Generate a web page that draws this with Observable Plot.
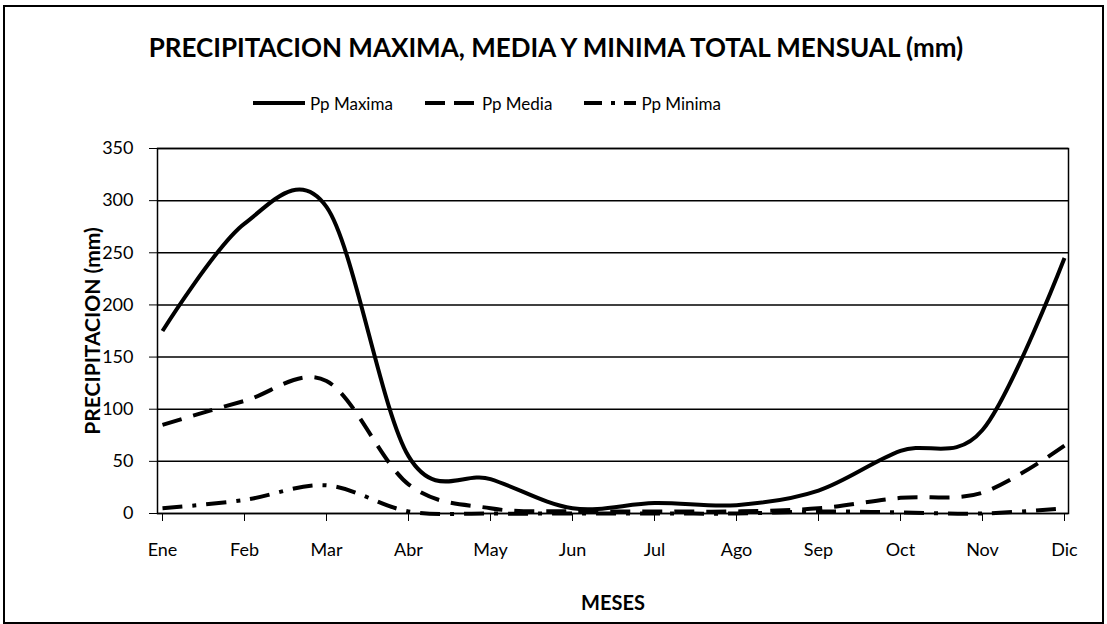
<!DOCTYPE html>
<html>
<head>
<meta charset="utf-8">
<script src="https://cdn.jsdelivr.net/npm/d3@7"></script>
<script src="https://cdn.jsdelivr.net/npm/@observablehq/plot@0.6"></script>
<style>
  html, body { margin: 0; padding: 0; background: #fff; }
  body { width: 1107px; height: 624px; position: relative; overflow: hidden; font-family: Lato, "Open Sans", sans-serif; }
  #frame { position: absolute; left: 3px; top: 5px; width: 1101px; height: 619px; border: 2px solid #000; box-sizing: border-box; }
  #title { position: absolute; left: 0; width: 1112px; top: 31px; text-align: center; font-size: 26px; line-height: 32px; font-weight: bold; color: #000; white-space: nowrap; }
  #legend { position: absolute; left: 253px; top: 92px; height: 22px; display: flex; align-items: center; gap: 32px; font-size: 17px; color: #000; }
  #legend .item { display: flex; align-items: center; gap: 5px; }
  #chart { position: absolute; left: 0; top: 125px; }
</style>
</head>
<body>
<div id="frame"></div>
<div id="title"></div>
<div id="legend"></div>
<div id="chart"></div>
<script>
const months = ["Ene","Feb","Mar","Abr","May","Jun","Jul","Ago","Sep","Oct","Nov","Dic"];
const ppMaxima = [175, 278, 294, 55, 33, 5, 10, 8, 22, 60, 80, 245];
const ppMedia  = [85, 108, 127, 28, 5, 2, 2, 2, 5, 15, 20, 65];
const ppMinima = [5, 13, 27, 2, 0, 0, 0, 0, 2, 1, 0, 5];
const seriesNames = ["Pp Maxima", "Pp Media", "Pp Minima"];
const yTicks = [0, 50, 100, 150, 200, 250, 300, 350];
const titleText = "PRECIPITACION MAXIMA, MEDIA Y MINIMA TOTAL MENSUAL (mm)";
const yLabel = "PRECIPITACION (mm)";
const xLabel = "MESES";

const dashes = [null, "20,12", "20,10,4,10"];
const legendDashes = [null, "20,9,20,8,6,0", "18,9,4,9,18,0"];
const seriesValues = [ppMaxima, ppMedia, ppMinima];

document.getElementById("title").textContent = titleText;

const legend = document.getElementById("legend");
seriesNames.forEach((name, i) => {
  const item = document.createElement("div");
  item.className = "item";
  item.innerHTML = `<svg width="52" height="10"><line x1="0" y1="5" x2="52" y2="5" stroke="#000" stroke-width="4" ${legendDashes[i] ? `stroke-dasharray="${legendDashes[i]}"` : ""}/></svg><span>${name}</span>`;
  legend.appendChild(item);
});

const rows = [];
seriesNames.forEach((s, i) => months.forEach((m, j) => rows.push({serie: s, mes: m, valor: seriesValues[i][j]})));

const chart = Plot.plot({
  width: 1107,
  height: 499,
  marginLeft: 157,
  marginRight: 39,
  marginTop: 23,
  marginBottom: 111,
  style: { fontFamily: "Lato, 'Open Sans', sans-serif", fontSize: "18px", color: "#000", background: "transparent" },
  x: { type: "point", domain: months, padding: 0 },
  y: { domain: [0, 350], ticks: yTicks },
  marks: [
    Plot.ruleY(yTicks, { stroke: "#000", strokeWidth: 1.5, strokeOpacity: 1 }),
    Plot.frame({ stroke: "#000", strokeWidth: 1.5 }),
    Plot.axisY({ ticks: yTicks, tickSize: 8, tickPadding: 16, label: yLabel, labelAnchor: "center", labelArrow: "none", labelOffset: 72 }),
    Plot.axisX({ tickSize: 8, tickPadding: 22, label: xLabel, labelAnchor: "center", labelArrow: "none", labelOffset: 96 }),
    ...seriesNames.map((s, i) => Plot.line(rows.filter(d => d.serie === s), {
      x: "mes", y: "valor", curve: "cardinal", tension: 0,
      stroke: "#000", strokeWidth: 4, strokeDasharray: dashes[i],
      strokeLinecap: "butt"
    }))
  ]
});
chart.querySelectorAll("[aria-label='y-axis label'] text").forEach(t => { t.setAttribute("font-weight", "bold"); t.setAttribute("font-size", "21"); });
chart.querySelectorAll("[aria-label='x-axis label'] text").forEach(t => { t.setAttribute("font-weight", "bold"); t.setAttribute("font-size", "20"); });
document.getElementById("chart").appendChild(chart);
</script>
</body>
</html>
